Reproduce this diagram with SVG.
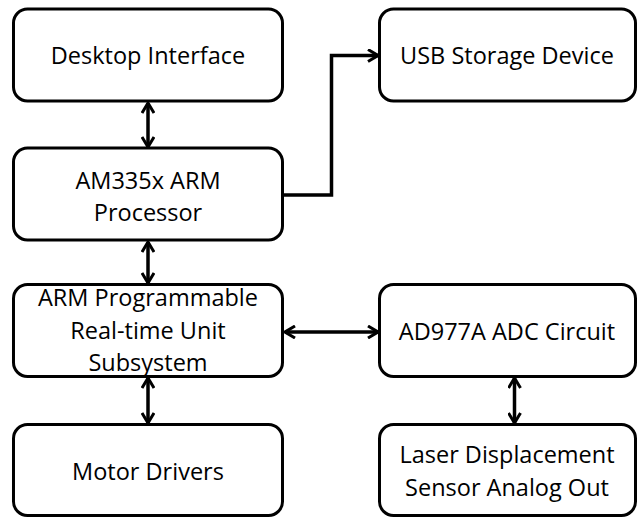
<svg xmlns="http://www.w3.org/2000/svg" width="638" height="518" viewBox="0 0 638 518">
<style>
.box{fill:#fff;stroke:#000;stroke-width:3}
.t{font-family:"Open Sans","Liberation Sans",sans-serif;font-size:23.5px;fill:#000;text-anchor:middle}
.c{fill:none;stroke:#000;stroke-width:3.5}
</style>
<defs>
<marker id="ah" viewBox="0 0 12 14" refX="11" refY="7" markerWidth="12" markerHeight="14" markerUnits="userSpaceOnUse" orient="auto-start-reverse">
<path d="M1,1 L11,7 L1,13" fill="none" stroke="#000" stroke-width="3"/>
</marker>
</defs>
<rect width="638" height="518" fill="#fff"/>
<g id="connectors">
<path class="c" d="M148,103 V147" marker-start="url(#ah)" marker-end="url(#ah)"/>
<path class="c" d="M283,195 H331.5 V55.5 H378" marker-end="url(#ah)"/>
<path class="c" d="M148,242 V283" marker-start="url(#ah)" marker-end="url(#ah)"/>
<path class="c" d="M148,378 V423" marker-start="url(#ah)" marker-end="url(#ah)"/>
<path class="c" d="M285,332 H378" marker-start="url(#ah)" marker-end="url(#ah)"/>
<path class="c" d="M514.5,378 V423" marker-start="url(#ah)" marker-end="url(#ah)"/>
</g>
<g id="desktop"><rect class="box" x="13.5" y="9" width="269" height="92" rx="14"/><text class="t" x="148" y="64">Desktop Interface</text></g>
<g id="am335x"><rect class="box" x="13.5" y="148" width="269" height="92" rx="14"/><text class="t" x="148" y="189">AM335x ARM</text><text class="t" x="148" y="221">Processor</text></g>
<g id="pru"><rect class="box" x="13.5" y="284.5" width="269" height="92" rx="14"/><text class="t" x="148" y="306">ARM Programmable</text><text class="t" x="148" y="339">Real-time Unit</text><text class="t" x="148" y="371">Subsystem</text></g>
<g id="motor"><rect class="box" x="13.5" y="424.5" width="269" height="91" rx="14"/><text class="t" x="148" y="480">Motor Drivers</text></g>
<g id="usb"><rect class="box" x="379.5" y="9" width="256" height="92" rx="14"/><text class="t" x="507" y="64">USB Storage Device</text></g>
<g id="adc"><rect class="box" x="379.5" y="284.5" width="256" height="92" rx="14"/><text class="t" x="507" y="340">AD977A ADC Circuit</text></g>
<g id="laser"><rect class="box" x="379.5" y="424.5" width="256" height="91" rx="14"/><text class="t" x="507" y="463">Laser Displacement</text><text class="t" x="507" y="496">Sensor Analog Out</text></g>
</svg>
